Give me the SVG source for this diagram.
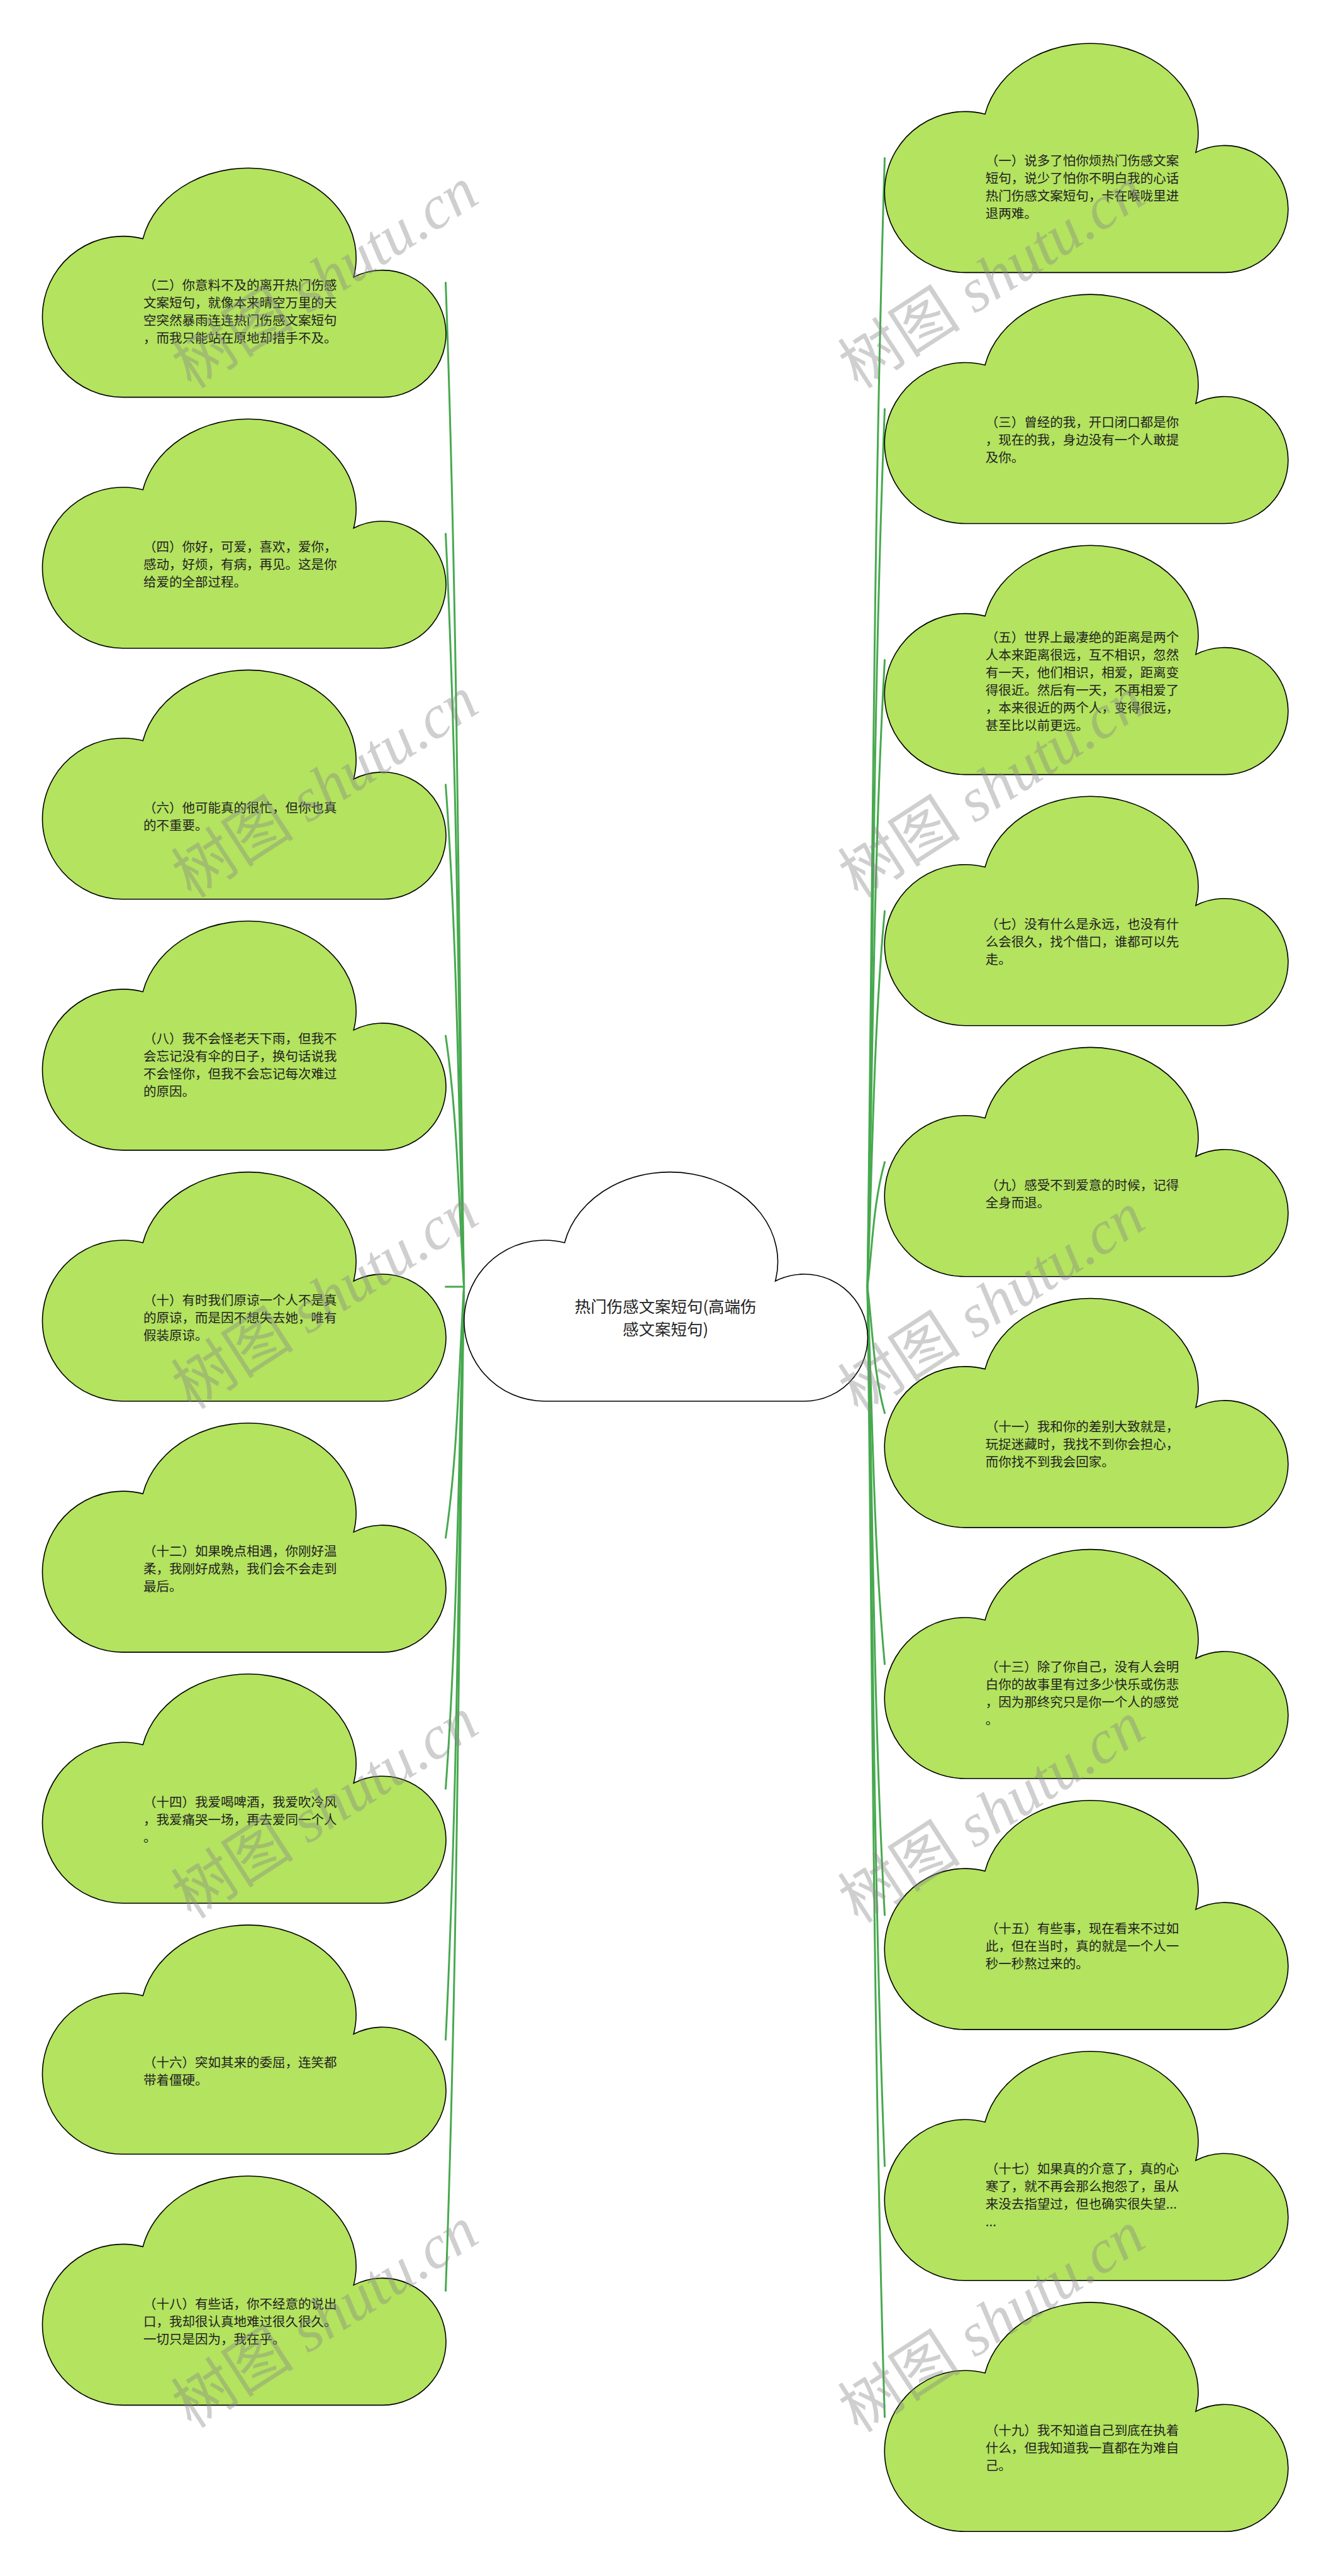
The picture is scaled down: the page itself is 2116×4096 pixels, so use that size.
<svg xmlns="http://www.w3.org/2000/svg" xmlns:xlink="http://www.w3.org/1999/xlink" width="2116" height="4096" viewBox="0 0 2116 4096">
<style>
.leaf{fill:#b3e35f;stroke:#000;stroke-width:1.6}
.root{fill:#fff;stroke:#000;stroke-width:1.6}
.t{font-family:"Noto Sans CJK SC","Noto Sans",sans-serif;font-size:20.5px;fill:#222}
.ct{font-family:"Noto Sans CJK SC","Noto Sans",sans-serif;font-size:25.5px;fill:#222;text-anchor:middle}
.edge{fill:none;stroke:#47a94f;stroke-width:3;stroke-linecap:round}
.wm{font-family:"Liberation Serif","Noto Sans CJK SC",serif;font-size:98px;fill:#888;fill-opacity:0.4;text-anchor:middle}
.wm .lat{font-style:italic}
</style>
<defs>
<path id="cloud" d="M128,364 A128,128 0 1 1 160,112 A168,140 0 0 1 495,173 A101,101 0 1 1 541,364 Z"/>
</defs>
<rect width="2116" height="4096" fill="#fff"/>
<g id="connectors">
<path class="edge" d="M737.6,2046 C728.9,1513.9 728,981.7 708.5,449.6"/>
<path class="edge" d="M737.6,2046 C728.9,1646.9 728,1247.8 708.5,848.7"/>
<path class="edge" d="M737.6,2046 C728.9,1779.9 728,1513.9 708.5,1247.8"/>
<path class="edge" d="M737.6,2046 C728.9,1913 728,1779.9 708.5,1646.9"/>
<path class="edge" d="M737.6,2046 L708.5,2046"/>
<path class="edge" d="M737.6,2046 C728.9,2179 728,2312.1 708.5,2445.1"/>
<path class="edge" d="M737.6,2046 C728.9,2312.1 728,2578.1 708.5,2844.2"/>
<path class="edge" d="M737.6,2046 C728.9,2445.1 728,2844.2 708.5,3243.3"/>
<path class="edge" d="M737.6,2046 C728.9,2578.1 728,3110.3 708.5,3642.4"/>
<path class="edge" d="M1379,2046 C1387.3,1447.8 1388.1,849.6 1406.5,251.4"/>
<path class="edge" d="M1379,2046 C1387.3,1580.8 1388.1,1115.7 1406.5,650.5"/>
<path class="edge" d="M1379,2046 C1387.3,1713.9 1388.1,1381.7 1406.5,1049.6"/>
<path class="edge" d="M1379,2046 C1387.3,1846.9 1388.1,1647.8 1406.5,1448.7"/>
<path class="edge" d="M1379,2046 C1387.3,1979.9 1388.1,1913.9 1406.5,1847.8"/>
<path class="edge" d="M1379,2046 C1387.3,2113 1388.1,2179.9 1406.5,2246.9"/>
<path class="edge" d="M1379,2046 C1387.3,2246 1388.1,2446 1406.5,2646"/>
<path class="edge" d="M1379,2046 C1387.3,2379 1388.1,2712.1 1406.5,3045.1"/>
<path class="edge" d="M1379,2046 C1387.3,2512.1 1388.1,2978.1 1406.5,3444.2"/>
<path class="edge" d="M1379,2046 C1387.3,2645.1 1388.1,3244.2 1406.5,3843.3"/>
</g>
<g id="root" transform="translate(737.6,1864)">
<use href="#cloud" class="root"/>
<text class="ct" x="320.4" y="223">热门伤感文案短句(高端伤<tspan x="320.4" dy="35.7">感文案短句)</tspan></text>
</g>
<g id="n1" transform="translate(1406,69.4)"><use href="#cloud" class="leaf"/>
<text class="t" x="160.8" y="193.8">（一）说多了怕你烦热门伤感文案<tspan x="160.8" dy="28">短句，说少了怕你不明白我的心话</tspan><tspan x="160.8" dy="28">热门伤感文案短句，卡在喉咙里进</tspan><tspan x="160.8" dy="28">退两难。</tspan></text></g>
<g id="n3" transform="translate(1406,468.5)"><use href="#cloud" class="leaf"/>
<text class="t" x="160.8" y="210.8">（三）曾经的我，开口闭口都是你<tspan x="160.8" dy="28">，现在的我，身边没有一个人敢提</tspan><tspan x="160.8" dy="28">及你。</tspan></text></g>
<g id="n5" transform="translate(1406,867.6)"><use href="#cloud" class="leaf"/>
<text class="t" x="160.8" y="153.2">（五）世界上最凄绝的距离是两个<tspan x="160.8" dy="28">人本来距离很远，互不相识，忽然</tspan><tspan x="160.8" dy="28">有一天，他们相识，相爱，距离变</tspan><tspan x="160.8" dy="28">得很近。然后有一天，不再相爱了</tspan><tspan x="160.8" dy="28">，本来很近的两个人，变得很远，</tspan><tspan x="160.8" dy="28">甚至比以前更远。</tspan></text></g>
<g id="n7" transform="translate(1406,1266.7)"><use href="#cloud" class="leaf"/>
<text class="t" x="160.8" y="210.8">（七）没有什么是永远，也没有什<tspan x="160.8" dy="28">么会很久，找个借口，谁都可以先</tspan><tspan x="160.8" dy="28">走。</tspan></text></g>
<g id="n9" transform="translate(1406,1665.8)"><use href="#cloud" class="leaf"/>
<text class="t" x="160.8" y="225.8">（九）感受不到爱意的时候，记得<tspan x="160.8" dy="28">全身而退。</tspan></text></g>
<g id="n11" transform="translate(1406,2064.9)"><use href="#cloud" class="leaf"/>
<text class="t" x="160.8" y="210.8">（十一）我和你的差别大致就是，<tspan x="160.8" dy="28">玩捉迷藏时，我找不到你会担心，</tspan><tspan x="160.8" dy="28">而你找不到我会回家。</tspan></text></g>
<g id="n13" transform="translate(1406,2464)"><use href="#cloud" class="leaf"/>
<text class="t" x="160.8" y="193.8">（十三）除了你自己，没有人会明<tspan x="160.8" dy="28">白你的故事里有过多少快乐或伤悲</tspan><tspan x="160.8" dy="28">，因为那终究只是你一个人的感觉</tspan><tspan x="160.8" dy="28">。</tspan></text></g>
<g id="n15" transform="translate(1406,2863.1)"><use href="#cloud" class="leaf"/>
<text class="t" x="160.8" y="210.8">（十五）有些事，现在看来不过如<tspan x="160.8" dy="28">此，但在当时，真的就是一个人一</tspan><tspan x="160.8" dy="28">秒一秒熬过来的。</tspan></text></g>
<g id="n17" transform="translate(1406,3262.2)"><use href="#cloud" class="leaf"/>
<text class="t" x="160.8" y="193.8">（十七）如果真的介意了，真的心<tspan x="160.8" dy="28">寒了，就不再会那么抱怨了，虽从</tspan><tspan x="160.8" dy="28">来没去指望过，但也确实很失望...</tspan><tspan x="160.8" dy="28">...</tspan></text></g>
<g id="n19" transform="translate(1406,3661.3)"><use href="#cloud" class="leaf"/>
<text class="t" x="160.8" y="210.8">（十九）我不知道自己到底在执着<tspan x="160.8" dy="28">什么，但我知道我一直都在为难自</tspan><tspan x="160.8" dy="28">己。</tspan></text></g>
<g id="n2" transform="translate(67.2,267.6)"><use href="#cloud" class="leaf"/>
<text class="t" x="160.8" y="193.8">（二）你意料不及的离开热门伤感<tspan x="160.8" dy="28">文案短句，就像本来晴空万里的天</tspan><tspan x="160.8" dy="28">空突然暴雨连连热门伤感文案短句</tspan><tspan x="160.8" dy="28">，而我只能站在原地却措手不及。</tspan></text></g>
<g id="n4" transform="translate(67.2,666.7)"><use href="#cloud" class="leaf"/>
<text class="t" x="160.8" y="210.8">（四）你好，可爱，喜欢，爱你，<tspan x="160.8" dy="28">感动，好烦，有病，再见。这是你</tspan><tspan x="160.8" dy="28">给爱的全部过程。</tspan></text></g>
<g id="n6" transform="translate(67.2,1065.8)"><use href="#cloud" class="leaf"/>
<text class="t" x="160.8" y="225.8">（六）他可能真的很忙，但你也真<tspan x="160.8" dy="28">的不重要。</tspan></text></g>
<g id="n8" transform="translate(67.2,1464.9)"><use href="#cloud" class="leaf"/>
<text class="t" x="160.8" y="193.8">（八）我不会怪老天下雨，但我不<tspan x="160.8" dy="28">会忘记没有伞的日子，换句话说我</tspan><tspan x="160.8" dy="28">不会怪你，但我不会忘记每次难过</tspan><tspan x="160.8" dy="28">的原因。</tspan></text></g>
<g id="n10" transform="translate(67.2,1864)"><use href="#cloud" class="leaf"/>
<text class="t" x="160.8" y="210.8">（十）有时我们原谅一个人不是真<tspan x="160.8" dy="28">的原谅，而是因不想失去她，唯有</tspan><tspan x="160.8" dy="28">假装原谅。</tspan></text></g>
<g id="n12" transform="translate(67.2,2263.1)"><use href="#cloud" class="leaf"/>
<text class="t" x="160.8" y="210.8">（十二）如果晚点相遇，你刚好温<tspan x="160.8" dy="28">柔，我刚好成熟，我们会不会走到</tspan><tspan x="160.8" dy="28">最后。</tspan></text></g>
<g id="n14" transform="translate(67.2,2662.2)"><use href="#cloud" class="leaf"/>
<text class="t" x="160.8" y="210.8">（十四）我爱喝啤酒，我爱吹冷风<tspan x="160.8" dy="28">，我爱痛哭一场，再去爱同一个人</tspan><tspan x="160.8" dy="28">。</tspan></text></g>
<g id="n16" transform="translate(67.2,3061.3)"><use href="#cloud" class="leaf"/>
<text class="t" x="160.8" y="225.8">（十六）突如其来的委屈，连笑都<tspan x="160.8" dy="28">带着僵硬。</tspan></text></g>
<g id="n18" transform="translate(67.2,3460.4)"><use href="#cloud" class="leaf"/>
<text class="t" x="160.8" y="210.8">（十八）有些话，你不经意的说出<tspan x="160.8" dy="28">口，我却很认真地难过很久很久。</tspan><tspan x="160.8" dy="28">一切只是因为，我在乎。</tspan></text></g>
<g id="watermarks">
<text class="wm" transform="translate(535,470) rotate(-33)">树图 <tspan class="lat">shutu.cn</tspan></text>
<text class="wm" transform="translate(535,1280) rotate(-33)">树图 <tspan class="lat">shutu.cn</tspan></text>
<text class="wm" transform="translate(535,2093) rotate(-33)">树图 <tspan class="lat">shutu.cn</tspan></text>
<text class="wm" transform="translate(535,2903) rotate(-33)">树图 <tspan class="lat">shutu.cn</tspan></text>
<text class="wm" transform="translate(535,3713) rotate(-33)">树图 <tspan class="lat">shutu.cn</tspan></text>
<text class="wm" transform="translate(1595,470) rotate(-33)">树图 <tspan class="lat">shutu.cn</tspan></text>
<text class="wm" transform="translate(1595,1280) rotate(-33)">树图 <tspan class="lat">shutu.cn</tspan></text>
<text class="wm" transform="translate(1595,2100) rotate(-33)">树图 <tspan class="lat">shutu.cn</tspan></text>
<text class="wm" transform="translate(1595,2910) rotate(-33)">树图 <tspan class="lat">shutu.cn</tspan></text>
<text class="wm" transform="translate(1595,3720) rotate(-33)">树图 <tspan class="lat">shutu.cn</tspan></text>
</g>
</svg>
